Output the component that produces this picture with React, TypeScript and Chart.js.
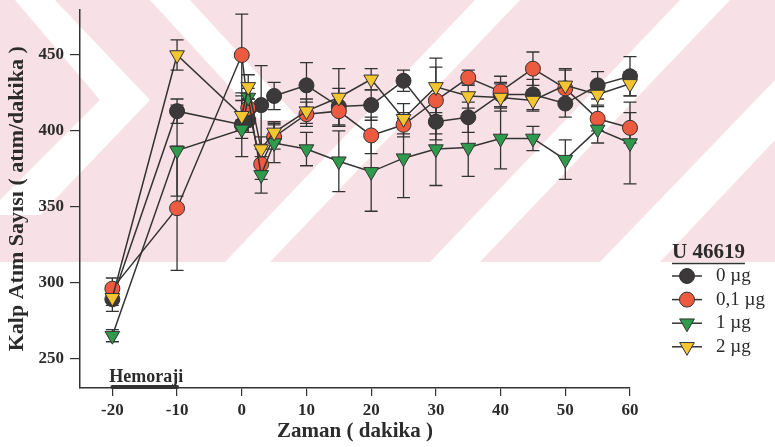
import React, { useEffect, useRef } from "react";
import { Chart, registerables } from "chart.js";

Chart.register(...registerables);

// ---- data ----
const timePoints = [-20, -10, 0, 1, 3, 5, 10, 15, 20, 25, 30, 35, 40, 45, 50, 55, 60];

const dose0 = [289, 413, 404, 407, 417, 423, 430, 416, 417, 433, 406, 409, 424, 424, 418, 430, 436];
const dose0Err = [8, 8, 21, 8, 26, 9, 15, 12, 10, 7, 12, 10, 8, 10, 9, 9, 13];

const dose01 = [296, 349, 450, 415, 378, 396, 411, 413, 397, 404, 420, 435, 426, 441, 428, 408, 402];
const dose01Err = [7, 41, 27, 6, 10, 8, 8, 10, 12, 8, 22, 5, 10, 11, 12, 8, 10];

const dose1 = [265, 387, 401, 422, 371, 392, 388, 380, 373, 382, 388, 389, 395, 395, 381, 401, 392];
const dose1Err = [4, 30, 6, 6, 12, 13, 11, 20, 26, 26, 24, 19, 20, 8, 13, 9, 27];

const dose2 = [290, 450, 410, 429, 388, 399, 413, 422, 434, 408, 429, 423, 422, 420, 430, 424, 431];
const dose2Err = [5, 10, 10, 8, 8, 7, 8, 19, 7, 10, 19, 8, 9, 7, 11, 7, 8];

const seriesLabels = ["0 µg", "0,1 µg", "1 µg", "2 µg"];
const legendTitle = "U 46619";
const xTicks = [-20, -10, 0, 10, 20, 30, 40, 50, 60];
const yTicks = [250, 300, 350, 400, 450];
const hemorrhageRange = [-20, -10];
const hemorrhageLabel = "Hemoraji";
const xTitle = "Zaman ( dakika )";
const yTitle = "Kalp Atım Sayısı ( atım/dakika )";

const SERIF = "'Liberation Serif', 'Times New Roman', serif";
const INK = "#2b2b2b";

const seriesStyles = [
  { fill: "#3b393a", shape: "circle" },
  { fill: "#ec5a40", shape: "circle" },
  { fill: "#2f9a4c", shape: "triangle" },
  { fill: "#f2c531", shape: "triangle" },
];
const seriesValues = [dose0, dose01, dose1, dose2];
const seriesErrors = [dose0Err, dose01Err, dose1Err, dose2Err];

function drawMarker(ctx: CanvasRenderingContext2D, shape: string, x: number, y: number, fill: string) {
  ctx.save();
  ctx.fillStyle = fill;
  ctx.strokeStyle = "#333";
  ctx.lineWidth = 1;
  ctx.beginPath();
  if (shape === "circle") {
    ctx.arc(x, y, 7.5, 0, Math.PI * 2);
  } else {
    const r = 8.5;
    ctx.moveTo(x, y + r);
    ctx.lineTo(x + r * Math.sin((2 * Math.PI) / 3), y - r * 0.5);
    ctx.lineTo(x - r * Math.sin((2 * Math.PI) / 3), y - r * 0.5);
    ctx.closePath();
  }
  ctx.fill();
  ctx.stroke();
  ctx.restore();
}

const watermarkPlugin = {
  id: "watermark",
  beforeDraw(chart: any) {
    const { ctx, width } = chart;
    ctx.save();
    ctx.fillStyle = "#ffffff";
    ctx.fillRect(0, 0, width, chart.height);
    ctx.beginPath();
    ctx.rect(0, 0, width, 262);
    ctx.clip();
    ctx.fillStyle = "#f8e1e6";
    ctx.fillRect(0, 0, width, 262);
    ctx.fillStyle = "#ffffff";
    const polys = [
      [[15, 0], [55, 0], [150, 100], [40, 215], [0, 215], [0, 200], [100, 100]],
      [[150, 0], [190, 0], [300, 120], [260, 120]],
      [[225, 262], [270, 262], [520, 0], [475, 0]],
      [[430, 262], [480, 262], [730, 0], [680, 0]],
      [[600, 262], [660, 262], [775, 140], [775, 80]],
    ];
    polys.forEach((p) => {
      ctx.beginPath();
      ctx.moveTo(p[0][0], p[0][1]);
      for (let i = 1; i < p.length; i++) ctx.lineTo(p[i][0], p[i][1]);
      ctx.closePath();
      ctx.fill();
    });
    ctx.restore();
  },
};

const errorBarPlugin = {
  id: "errorBars",
  beforeDatasetsDraw(chart: any) {
    const { ctx } = chart;
    const xs = chart.scales.x;
    const ys = chart.scales.y;
    ctx.save();
    ctx.strokeStyle = "#333";
    ctx.lineWidth = 1.3;
    seriesValues.forEach((vals, si) => {
      const errs = seriesErrors[si];
      vals.forEach((v, i) => {
        const px = xs.getPixelForValue(timePoints[i]);
        const top = ys.getPixelForValue(v + errs[i]);
        const bot = ys.getPixelForValue(v - errs[i]);
        ctx.beginPath();
        ctx.moveTo(px, top);
        ctx.lineTo(px, bot);
        ctx.moveTo(px - 6.5, top);
        ctx.lineTo(px + 6.5, top);
        ctx.moveTo(px - 6.5, bot);
        ctx.lineTo(px + 6.5, bot);
        ctx.stroke();
      });
    });
    ctx.restore();
  },
};

const decorPlugin = {
  id: "decor",
  afterDraw(chart: any) {
    const { ctx, chartArea } = chart;
    const xs = chart.scales.x;
    ctx.save();
    // hemorrhage bar
    const x1 = xs.getPixelForValue(hemorrhageRange[0]);
    const x2 = xs.getPixelForValue(hemorrhageRange[1]);
    ctx.strokeStyle = "#333";
    ctx.lineWidth = 4;
    ctx.lineCap = "round";
    ctx.beginPath();
    ctx.moveTo(x1, chartArea.bottom - 1);
    ctx.lineTo(x2, chartArea.bottom - 1);
    ctx.stroke();
    ctx.fillStyle = INK;
    ctx.font = `bold 18px ${SERIF}`;
    ctx.textAlign = "left";
    ctx.textBaseline = "middle";
    ctx.fillText(hemorrhageLabel, x1 - 3, chartArea.bottom - 11);

    // legend
    const lx = 672;
    ctx.font = `bold 21px ${SERIF}`;
    ctx.textBaseline = "middle";
    ctx.fillText(legendTitle, lx, 253);
    const tw = ctx.measureText(legendTitle).width;
    ctx.lineWidth = 1.5;
    ctx.lineCap = "butt";
    ctx.beginPath();
    ctx.moveTo(lx, 263.5);
    ctx.lineTo(lx + tw, 263.5);
    ctx.stroke();
    ctx.font = `19px ${SERIF}`;
    seriesLabels.forEach((lab, i) => {
      const y = 276 + i * 23.6;
      ctx.strokeStyle = "#333";
      ctx.lineWidth = 1.5;
      ctx.beginPath();
      ctx.moveTo(lx, y);
      ctx.lineTo(lx + 30, y);
      ctx.stroke();
      drawMarker(ctx, seriesStyles[i].shape, lx + 15, y, seriesStyles[i].fill);
      ctx.fillStyle = INK;
      ctx.fillText(lab, lx + 44, y);
    });
    ctx.restore();
  },
};

export default function App() {
  const canvasRef = useRef<HTMLCanvasElement | null>(null);

  useEffect(() => {
    document.body.style.margin = "0";
    const canvas = canvasRef.current;
    if (!canvas) return;
    const order = [3, 2, 1, 0];
    const datasets = seriesValues.map((vals, si) => ({
      label: seriesLabels[si],
      data: timePoints.map((t, i) => ({ x: t, y: vals[i] })),
      showLine: true,
      borderColor: "#333",
      borderWidth: 1.5,
      pointStyle: seriesStyles[si].shape,
      pointRotation: seriesStyles[si].shape === "triangle" ? 180 : 0,
      pointRadius: seriesStyles[si].shape === "triangle" ? 8.5 : 7.5,
      pointBackgroundColor: seriesStyles[si].fill,
      pointBorderColor: "#333",
      pointBorderWidth: 1,
      order: order[si],
      clip: false as any,
    }));

    const tickFont = { family: SERIF, size: 17, weight: "bold" as const };
    const chart = new Chart(canvas, {
      type: "scatter",
      data: { datasets },
      plugins: [watermarkPlugin, errorBarPlugin, decorPlugin],
      options: {
        responsive: false,
        animation: false,
        layout: { padding: { left: 0, right: 145, top: 5, bottom: 0 } },
        plugins: { legend: { display: false }, tooltip: { enabled: false } },
        scales: {
          x: {
            type: "linear",
            min: -25,
            max: 60,
            afterBuildTicks: (s: any) => {
              s.ticks = xTicks.map((v) => ({ value: v }));
            },
            afterFit: (s: any) => {
              s.height = 59;
              s.paddingLeft = 0;
              s.paddingRight = 0;
            },
            grid: { drawOnChartArea: false, drawTicks: true, tickLength: 8, color: "#333", lineWidth: 1.2 },
            border: { color: "#333", width: 1.5 },
            ticks: { font: tickFont, color: INK, padding: 4, maxRotation: 0, autoSkip: false },
            title: {
              display: true,
              text: xTitle,
              font: { family: SERIF, size: 21, weight: "bold" },
              color: INK,
              padding: { top: 0, bottom: 3 },
            },
          },
          y: {
            type: "linear",
            min: 230.5,
            max: 480,
            afterBuildTicks: (s: any) => {
              s.ticks = yTicks.map((v) => ({ value: v }));
            },
            afterFit: (s: any) => {
              s.width = 80;
              s.paddingTop = 0;
              s.paddingBottom = 0;
            },
            grid: { drawOnChartArea: false, drawTicks: true, tickLength: 10, color: "#333", lineWidth: 1.2 },
            border: { color: "#333", width: 1.5 },
            ticks: { font: tickFont, color: INK, padding: 6 },
            title: {
              display: true,
              text: yTitle,
              font: { family: SERIF, size: 22, weight: "bold" },
              color: INK,
              padding: { top: 4, bottom: 0 },
            },
          },
        },
      },
    });
    return () => chart.destroy();
  }, []);

  return (
    <div style={{ position: "absolute", left: 0, top: 0, width: 775, height: 447 }}>
      <canvas ref={canvasRef} width={775} height={447} style={{ width: 775, height: 447 }} />
    </div>
  );
}
